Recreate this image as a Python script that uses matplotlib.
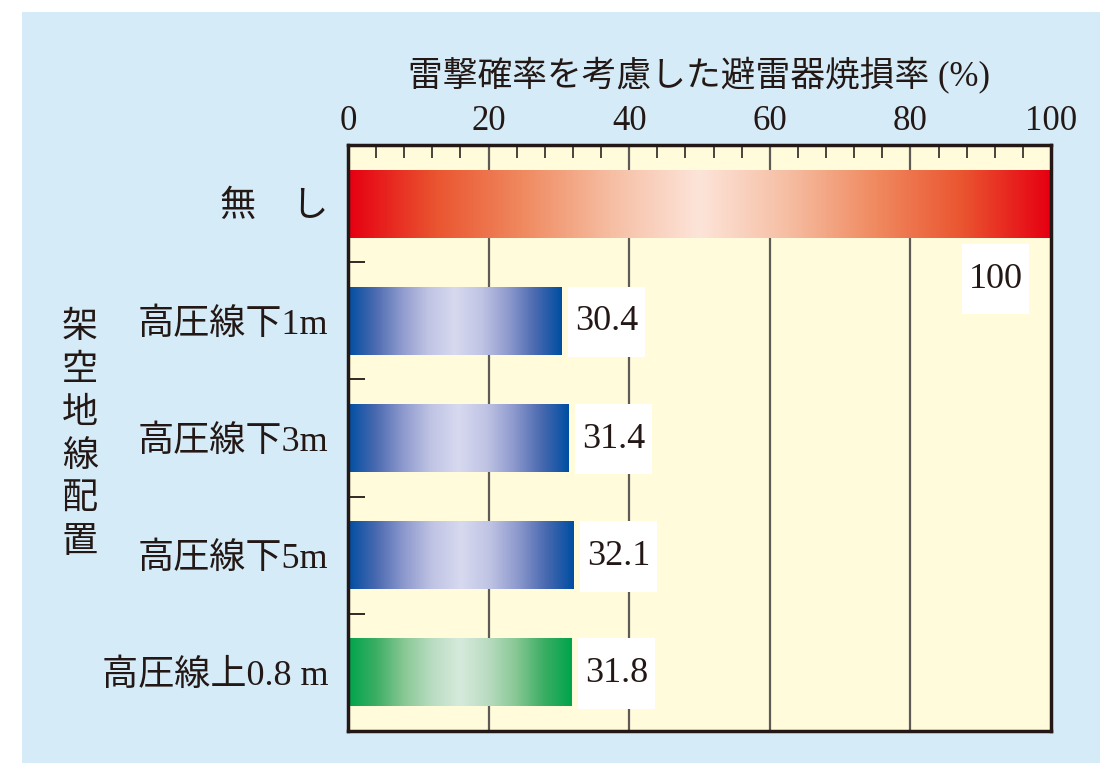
"""Arrester burn-out rate by overhead ground wire position."""

import numpy as np
import matplotlib
matplotlib.use('Agg')
import matplotlib.pyplot as plt
from matplotlib.colors import LinearSegmentedColormap
from matplotlib.patches import Rectangle

# data
categories = ['無　し', '高圧線下1m', '高圧線下3m', '高圧線下5m', '高圧線上0.8 m']
values = [100, 30.4, 31.4, 32.1, 31.8]
bar_styles = ['red', 'blue', 'blue', 'blue', 'green']
group_label = '架空地線配置'
title = '雷撃確率を考慮した避雷器焼損率 (%)'
xticks = [0, 20, 40, 60, 80, 100]

FONT = ['Liberation Serif', 'Noto Sans CJK JP']
plt.rcParams['font.family'] = FONT

gradients = {
    'red': ['#e60012', '#ea5530', '#f08a60', '#f6bea3', '#fde4d9'],
    'blue': ['#004ea2', '#4a6ab0', '#8e9ace', '#c0c4e4', '#d7d9ef'],
    'green': ['#00a44c', '#3cae64', '#88c894', '#b9dcc1', '#d6eadc'],
}

fig = plt.figure(figsize=(11, 7.63), dpi=100)
fig.patch.set_facecolor('white')
fig.patches.append(Rectangle((22 / 1100, 0), 1, 1 - 12 / 763,
                             transform=fig.transFigure,
                             facecolor='#d5ecf8', edgecolor='none',
                             zorder=-10))

ax = fig.add_axes([348 / 1100, 1 - 731 / 763, 703 / 1100, 586 / 763])
ax.set_facecolor('#fffbdb')

y = np.arange(len(categories))
bar_h = 0.58
bars = ax.barh(y, values, height=bar_h, color='none', edgecolor='none',
               zorder=3)

# gradient fill for each bar
t = np.linspace(0, 1, 400)
prof = 1 - np.abs(2 * t - 1)
for bar, style in zip(bars, bar_styles):
    cmap = LinearSegmentedColormap.from_list(style, gradients[style])
    x0, y0 = bar.get_x(), bar.get_y()
    w, h = bar.get_width(), bar.get_height()
    ax.imshow(prof[np.newaxis, :], cmap=cmap, aspect='auto',
              extent=(x0, x0 + w, y0 + h, y0), vmin=0, vmax=1,
              zorder=3, interpolation='bilinear')
ax.set_xlim(0, 100)
ax.set_ylim(len(categories) - 0.5, -0.5)

# value boxes
for bar, val in zip(bars, values):
    if val >= 100:
        bx, by, bw = 87.3, bar.get_y() + bar.get_height() + 0.055, 9.6
    else:
        bx, by, bw = val + 0.9, bar.get_y(), 11.0
    ax.add_patch(Rectangle((bx, by), bw, bar.get_height() + 0.02,
                           facecolor='white', edgecolor='none', zorder=4))
    ax.text(bx + bw / 2, by + bar.get_height() / 2 + 0.01,
            f'{val:g}' if val >= 100 else f'{val:.1f}',
            ha='center', va='center', fontsize=26, color='#231815',
            family=FONT, zorder=5)

# grid
for gx in xticks[1:-1]:
    ax.axvline(gx, color='#5e5a55', linewidth=1.6, zorder=1)

ax.xaxis.tick_top()
ax.set_xticks(xticks)
ax.set_xticklabels([str(v) for v in xticks], fontsize=25, color='#231815')
ax.set_xticks([v for v in range(4, 100, 4) if v % 20], minor=True)
ax.tick_params(axis='x', which='major', length=0, pad=5)
ax.tick_params(axis='x', which='minor', direction='in', length=9,
               width=1.3, color='#3a3530')

ax.set_yticks(y)
ax.set_yticklabels(categories, fontsize=26, color='#231815')
ax.set_yticks(y[:-1] + 0.5, minor=True)
ax.tick_params(axis='y', which='major', length=0, pad=14)
ax.tick_params(axis='y', which='minor', direction='in', length=12,
               width=1.3, color='#231815')

for s in ax.spines.values():
    s.set_linewidth(2.5)
    s.set_color('#231815')
    s.set_zorder(6)

ax.set_title(title, fontsize=25, color='#231815', pad=14)

fig.text(80 / 1100, 1 - 436 / 763, '\n'.join(group_label), ha='center',
         va='center', fontsize=26, color='#231815', linespacing=1.4)

plt.savefig('out.png', dpi=100)
plt.close()
